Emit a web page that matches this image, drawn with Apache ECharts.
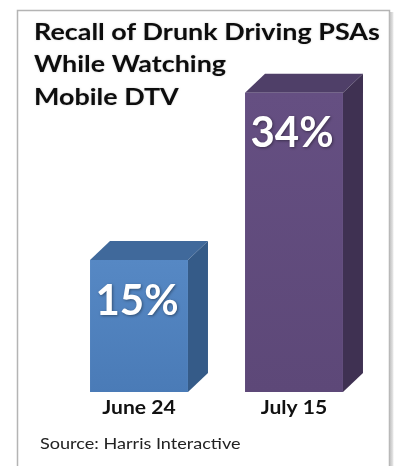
<!DOCTYPE html>
<html>
<head>
<meta charset="utf-8">
<script src="https://cdn.jsdelivr.net/npm/echarts@6/dist/echarts.min.js"></script>
<style>
  html, body { margin: 0; padding: 0; background: #ffffff; }
  #chart { width: 399px; height: 466px; }
</style>
</head>
<body>
<div id="chart"></div>
<script>
// Survey recall figures by date
const categories = ['June 24', 'July 15'];
const recallPct = [15, 34];
const titleLines = ['Recall of Drunk Driving PSAs', 'While Watching', 'Mobile DTV'];
const sourceNote = 'Source: Harris Interactive';

// Face colours per bar: front, top, side
const faceColors = [
  { front: ['#5688c4', '#4a7bb7'], top: '#40699b', side: '#355b88' },
  { front: ['#654f82', '#5d4878'], top: '#4f3f68', side: '#3f3152' }
];

// Wide, heavy type used throughout
const WIDE = 1.17;

const chart = echarts.init(document.getElementById('chart'), null, { renderer: 'canvas' });

function renderBox(params, api) {
  const idx = params.dataIndex;
  const v = api.value(1);
  const base = api.coord([api.value(0), 0]);
  const top = api.coord([api.value(0), v]);
  const bw = api.size([1, 0])[0] * 0.632;
  const dx = 20, dy = 19;
  const x0 = base[0] - bw / 2, x1 = base[0] + bw / 2;
  const y0 = top[1], y1 = base[1];
  const c = faceColors[idx];
  return {
    type: 'group',
    children: [
      {
        type: 'polygon',
        shape: { points: [[x0, y0], [x0 + dx, y0 - dy], [x1 + dx, y0 - dy], [x1, y0]] },
        style: { fill: c.top }
      },
      {
        type: 'polygon',
        shape: { points: [[x1, y0], [x1 + dx, y0 - dy], [x1 + dx, y1 - dy], [x1, y1]] },
        style: { fill: c.side }
      },
      {
        type: 'rect',
        shape: { x: x0, y: y0, width: bw, height: y1 - y0 },
        style: {
          fill: new echarts.graphic.LinearGradient(0, 0, 0, 1, [
            { offset: 0, color: c.front[0] },
            { offset: 1, color: c.front[1] }
          ])
        }
      },
      {
        type: 'text',
        x: base[0] - 2,
        y: y0 + 41,
        style: {
          text: api.value(1) + '%',
          fill: '#ffffff',
          font: 'bold 42px Lato',
          align: 'center',
          verticalAlign: 'middle',
          textShadowColor: 'rgba(0,0,0,0.4)',
          textShadowBlur: 3,
          textShadowOffsetX: 1,
          textShadowOffsetY: 1
        }
      },
      {
        // category name under the box
        type: 'text',
        x: base[0],
        y: y1 + 16,
        scaleX: WIDE,
        style: {
          text: categories[idx],
          fill: '#111111',
          font: 'bold 18px Lato',
          align: 'center',
          verticalAlign: 'middle'
        }
      }
    ]
  };
}

chart.setOption({
  backgroundColor: '#ffffff',
  animation: false,
  grid: { left: 61.5, width: 310, top: 40, bottom: 74 },
  xAxis: {
    type: 'category',
    data: categories,
    axisLine: { show: false },
    axisTick: { show: false },
    axisLabel: { show: false }
  },
  yAxis: {
    type: 'value',
    min: 0,
    max: 40,
    show: false,
    splitLine: { show: false }
  },
  series: [{
    type: 'custom',
    renderItem: renderBox,
    data: categories.map((c, i) => [i, recallPct[i]])
  }],
  graphic: [
    {
      type: 'rect',
      z: -10,
      shape: { x: 17.5, y: 10.5, width: 372, height: 480 },
      style: { fill: '#ffffff', stroke: '#b4b4b4', lineWidth: 1.5 }
    },
    {
      type: 'rect',
      z: -9,
      shape: { x: 389.5, y: 12, width: 4, height: 480 },
      style: {
        fill: new echarts.graphic.LinearGradient(0, 0, 1, 0, [
          { offset: 0, color: '#bdbdbd' },
          { offset: 1, color: '#ececec' }
        ])
      }
    },
    {
      type: 'text',
      x: 34,
      y: 16,
      scaleX: WIDE,
      style: {
        text: titleLines.join('\n'),
        font: 'bold 23px Lato',
        lineHeight: 32.5,
        fill: '#0d0d0d',
        textShadowColor: 'rgba(0,0,0,0.2)',
        textShadowBlur: 2
      }
    },
    {
      type: 'text',
      x: 40,
      y: 444,
      scaleX: 1.13,
      style: {
        text: sourceNote,
        font: '16px Lato',
        fill: '#222222',
        verticalAlign: 'middle'
      }
    }
  ]
});
</script>
</body>
</html>
